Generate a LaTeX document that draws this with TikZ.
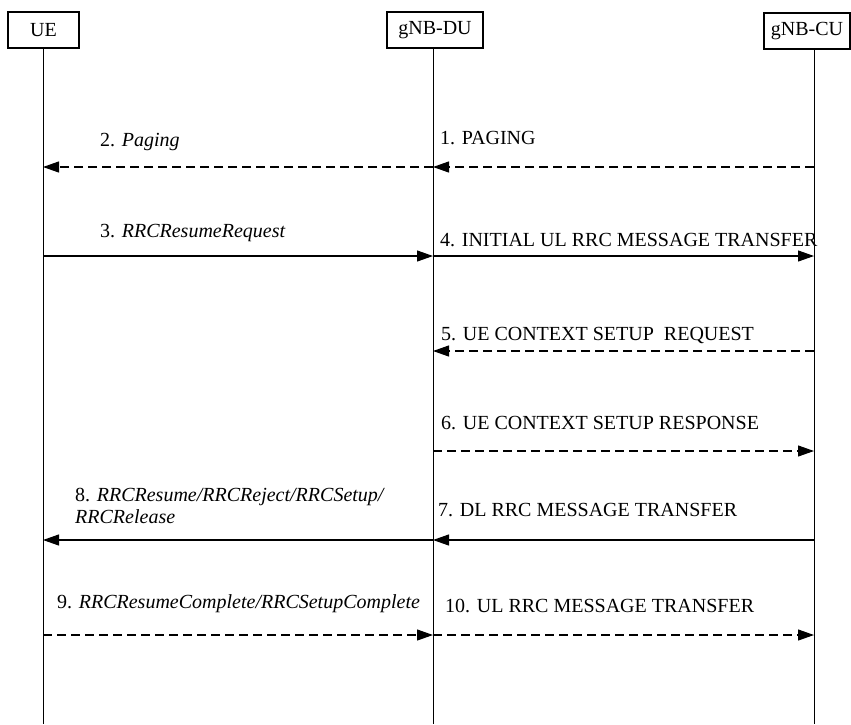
\documentclass[tikz,border=0pt]{standalone}
\usepackage{fontspec}
\setmainfont{Liberation Serif}
\usetikzlibrary{arrows.meta}
\begin{document}
\begin{tikzpicture}[x=1pt,y=-1pt,
  entity/.style={draw,line width=1.3pt,minimum height=36pt,inner sep=0pt,font=\fontsize{20}{22}\selectfont},
  life/.style={line width=1pt},
  msg/.style={line width=1.1pt,-{Triangle[length=16pt,width=11pt]}},
  dmsg/.style={msg,dash pattern=on 9pt off 5pt},
  lbl/.style={anchor=west,inner sep=0pt,font=\fontsize{20}{22}\selectfont,align=left}]
\useasboundingbox (0,0) rectangle (851,724);
% entities
\node[entity,minimum width=71pt] (ue) at (43.5,30) {UE};
\node[entity,minimum width=96pt] (du) at (435,30) {gNB-DU};
\node[entity,minimum width=86pt] (cu) at (807,31) {gNB-CU};
% lifelines
\coordinate (ueT) at (43,48); \coordinate (ueB) at (43,724);
\coordinate (duT) at (433,48); \coordinate (duB) at (433,724);
\coordinate (cuT) at (814,49); \coordinate (cuB) at (814,724);
\draw[life] (ueT) -- (ueB);
\draw[life] (duT) -- (duB);
\draw[life] (cuT) -- (cuB);
% message endpoints
\foreach \n/\y in {1/167,3/256,5/351,6/451,7/540,9/635}{
  \coordinate (u\n) at (43,\y);
  \coordinate (d\n) at (433,\y);
  \coordinate (c\n) at (814,\y);
}
% messages
\draw[dmsg] (c1) -- (d1);
\draw[dmsg] (d1) -- (u1);
\draw[msg] (u3) -- (d3);
\draw[msg] (d3) -- (c3);
\draw[dmsg] (c5) -- (d5);
\draw[dmsg] (d6) -- (c6);
\draw[msg] (c7) -- (d7);
\draw[msg] (d7) -- (u7);
\draw[dmsg] (u9) -- (d9);
\draw[dmsg] (d9) -- (c9);
% labels
\node[lbl] (l1) at (440,138) {1. PAGING};
\node[lbl] (l2) at (100,142) {2. \textit{Paging}};
\node[lbl] (l3) at (100,233) {3. \textit{RRCResumeRequest}};
\node[lbl] (l4) at (440,240) {4. INITIAL UL RRC MESSAGE TRANSFER};
\node[lbl] (l5) at (441,335) {5. UE CONTEXT SETUP\ \ REQUEST};
\node[lbl] (l6) at (441,423) {6. UE CONTEXT SETUP RESPONSE};
\node[lbl] (l7) at (438,510) {7. DL RRC MESSAGE TRANSFER};
\node[lbl] (l8) at (75,506) {8. \textit{RRCResume/RRCReject/RRCSetup/}\\\textit{RRCRelease}};
\node[lbl] (l9) at (57,604) {9. \textit{RRCResumeComplete/RRCSetupComplete}};
\node[lbl] (l10) at (445,606) {10. UL RRC MESSAGE TRANSFER};
\end{tikzpicture}
\end{document}
